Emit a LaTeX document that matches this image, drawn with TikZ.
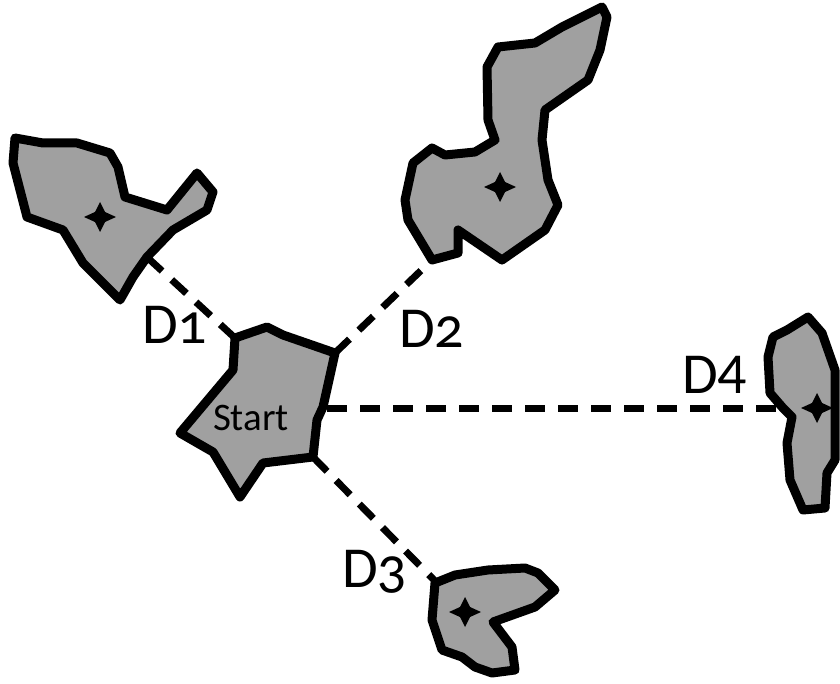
\documentclass[tikz,border=0pt]{standalone}
\usepackage{fontspec}
\setmainfont{Carlito}
\newfontfamily\oldnum[Numbers=OldStyle]{Carlito}
\definecolor{blobgray}{RGB}{160,160,160}
\tikzset{
  blob/.style={draw=black, fill=blobgray, line width=9pt, line join=round},
  dist/.style={draw=black, line width=7pt, dash pattern=on 20pt off 13pt},
  dlabel/.style={font=\fontsize{58}{62}\selectfont, inner sep=0pt, anchor=base west},
}
\newcommand{\starmark}[2]{%
  \fill[black] (#1,#2-15) -- (#1+5,#2-5) -- (#1+16,#2) -- (#1+5,#2+5) -- (#1,#2+15) -- (#1-5,#2+5) -- (#1-16,#2) -- (#1-5,#2-5) -- cycle;
  \fill[black] (#1,#2) circle (7);}
\begin{document}
\begin{tikzpicture}[x=1pt,y=-1pt]
\useasboundingbox (0,0) rectangle (840,684);
% connector end points
\coordinate (s1) at (235,338);
\coordinate (s2) at (335,353);
\coordinate (s3) at (313,457);
\coordinate (s4) at (327,408);
\coordinate (e1) at (149,259);
\coordinate (e2) at (432,260);
\coordinate (e3) at (436,582);
\coordinate (e4) at (785,408);
% dashed connectors
\draw[dist] (s1) -- (e1);
\draw[dist] (s2) -- (e2);
\draw[dist] (s3) -- (e3);
\draw[dist] (s4) -- (e4);
% shape 1
\path[blob] (15,138) -- (43,143) -- (77,143) -- (110,153) -- (118,167) -- (125,197) -- (167,210) -- (197,173) -- (213,192) -- (207,210) -- (173,230) -- (147,257) -- (133,277) -- (120,300) -- (83,263) -- (63,230) -- (27,217) -- (13,163) -- cycle;
% shape 2
\path[blob] (602,7) -- (607,17) -- (600,50) -- (588,80) -- (545,110) -- (542,140) -- (548,180) -- (558,205) -- (545,230) -- (502,260) -- (458,230) -- (458,253) -- (432,260) -- (408,220) -- (405,200) -- (413,163) -- (432,148) -- (445,155) -- (475,152) -- (495,140) -- (488,120) -- (487,67) -- (498,47) -- (535,43) -- (562,27) -- cycle;
% start shape
\path[blob] (235,338) -- (267,327) -- (283,335) -- (335,353) -- (323,407) -- (317,420) -- (313,457) -- (263,463) -- (240,497) -- (213,452) -- (180,433) -- (233,370) -- cycle;
% shape 4
\path[blob] (808,317) -- (822,333) -- (835,370) -- (835,460) -- (827,473) -- (825,508) -- (803,510) -- (790,480) -- (787,443) -- (792,417) -- (783,408) -- (770,393) -- (768,357) -- (773,337) -- (787,330) -- cycle;
% shape 3
\path[blob] (435,583) -- (455,575) -- (488,570) -- (525,568) -- (538,573) -- (555,590) -- (535,607) -- (493,622) -- (512,647) -- (515,670) -- (492,673) -- (475,667) -- (462,657) -- (442,650) -- (432,620) -- cycle;
% centre marks
\starmark{100}{217}
\starmark{500}{187}
\starmark{817}{408}
\starmark{465}{612}
% labels
\node[font=\fontsize{39}{43}\selectfont, inner sep=0pt] (start) at (251,418) {Start};
\node[dlabel] (d1) at (142,343) {D\oldnum 1};
\node[dlabel] (d2) at (399,347) {D\oldnum 2};
\node[dlabel] (d3) at (342,587) {D\oldnum 3};
\node[dlabel] (d4) at (682,393) {D4};
\end{tikzpicture}
\end{document}
